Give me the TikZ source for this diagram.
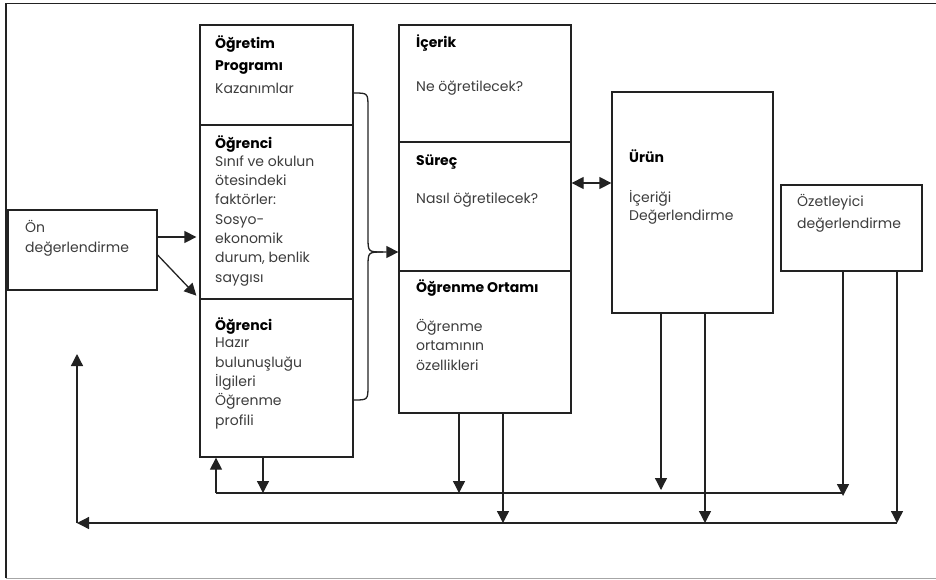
\documentclass[tikz,border=0pt]{standalone}
\usepackage{fontspec}
\setmainfont{Poppins}
\usetikzlibrary{arrows.meta,fit}
\definecolor{ink}{HTML}{222222}
\definecolor{body}{HTML}{3C3C3C}
\begin{document}
\begin{tikzpicture}[x=1pt,y=-1pt,
  box/.style={draw=ink,line width=1.3pt,inner sep=0pt},
  wire/.style={draw=ink,line width=1.3pt},
  tip/.tip={Triangle[width=12pt,length=12pt]},
  arr/.style={wire,-tip},
  darr/.style={wire,tip-tip},
  txt/.style={anchor=base west,inner sep=0pt,align=left,text=body,
    font=\fontsize{14}{19.3}\selectfont},
  hd/.style={anchor=base west,inner sep=0pt,align=left,text=black,
    font=\fontsize{14}{22}\selectfont\bfseries}]
\useasboundingbox (0,0) rectangle (936,579);
% outer frame (open on the right)
\draw[ink,line width=1.3pt] (937,3.5) -- (6,3.5) -- (6,578);
\draw[gray!70,line width=1pt] (6,578) -- (937,578);

% boxes
\node (on)     [box,fit={(8,210)(157,290)}] {};
\node (prog)   [box,fit={(200,25)(353,125)}] {};
\node (ogr1)   [box,fit={(200,125)(353,299)}] {};
\node (ogr2)   [box,fit={(200,299)(353,457)}] {};
\node (icerik) [box,fit={(399,25)(571,142)}] {};
\node (surec)  [box,fit={(399,142)(571,271)}] {};
\node (ortam)  [box,fit={(399,271)(571,413)}] {};
\node (urun)   [box,fit={(612,92)(773,313)}] {};
\node (ozet)   [box,fit={(781,185)(922,271)}] {};

% texts (anchored at the baseline of their last line)
\node (onT)    [txt] at (25,252) {Ön\\değerlendirme};
\node (progH)  [hd]  at (215,70) {Öğretim\\Programı};
\node (progT)  [txt] at (215,93) {Kazanımlar};
\node (ogr1H)  [hd]  at (215,148) {Öğrenci};
\node (ogr1T)  [txt] at (215,282) {Sınıf ve okulun\\ötesindeki\\faktörler:\\Sosyo-\\ekonomik\\durum, benlik\\saygısı};
\node (ogr2H)  [hd]  at (215,330) {Öğrenci};
\node (ogr2T)  [txt] at (215,425) {Hazır\\bulunuşluğu\\İlgileri\\Öğrenme\\profili};
\node (icH)    [hd]  at (416,47) {İçerik};
\node (icT)    [txt] at (416,91) {Ne öğretilecek?};
\node (suH)    [hd]  at (416,165) {Süreç};
\node (suT)    [txt] at (416,203) {Nasıl öğretilecek?};
\node (orH)    [hd]  at (416,292) {Öğrenme Ortamı};
\node (orT)    [txt] at (416,370) {Öğrenme\\ortamının\\özellikleri};
\node (urH)    [hd]  at (629,162) {Ürün};
\node (urT)    [txt,font=\fontsize{14}{18}\selectfont] at (629,220) {İçeriği\\Değerlendirme};
\node (ozT)    [txt,font=\fontsize{14}{22}\selectfont] at (797,228) {Özetleyici\\değerlendirme};

% entry arrows from the pre-assessment box
\draw[arr] ([yshift=13pt]on.east) -- ([yshift=13pt,xshift=-3pt]on.east -| ogr1.west);
\draw[arr] ([yshift=-5pt]on.east) -- ([xshift=-3pt,yshift=4pt]ogr1.south west);

% brace joining the left column into the middle column
\coordinate (join) at (383,252);
\draw[arr] ([yshift=-18pt]prog.east) .. controls (368,93) .. (368,108)
  -- (368,237) .. controls (368,252) .. (join) -- (join -| surec.west);
\draw[wire] ([yshift=-22pt]ogr2.east) .. controls (368,400) .. (368,385)
  -- (368,267) .. controls (368,252) .. (join);

% two-way link between process and product
\draw[darr] ([yshift=23.5pt]surec.east) -- ([yshift=23.5pt]surec.east -| urun.west);

% feedback lines
\coordinate (l1w) at (216,493);
\coordinate (l1e) at (843,493);
\coordinate (l2w) at (77,523);
\coordinate (l2e) at (897,523);
\coordinate (up)  at (77,354);
\coordinate (t1) at (263,493);
\coordinate (t2) at (459,493);
\coordinate (t3) at (661,490);
\coordinate (t4) at (843,496);
\coordinate (s1) at (503,523);
\coordinate (s2) at (705,523);

\draw[wire] (l1w) -- (l1e);
\draw[arr] (l1w) -- (l1w |- ogr2.south);
\draw[arr] (t1 |- ogr2.south) -- (t1);
\draw[arr] (t2 |- ortam.south) -- (t2);
\draw[arr] (s1 |- ortam.south) -- (s1);
\draw[arr] (t3 |- urun.south) -- (t3);
\draw[arr] (s2 |- urun.south) -- (s2);
\draw[arr] (t4 |- ozet.south) -- (t4);
\draw[arr] (l2e |- ozet.south) -- (l2e);
\draw[arr] (l2e) -- (l2w);
\draw[arr] (l2w) -- (up);
\end{tikzpicture}
\end{document}
